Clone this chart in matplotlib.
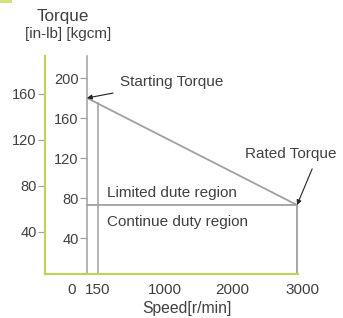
import matplotlib
matplotlib.use("Agg")
import matplotlib.pyplot as plt
import matplotlib.transforms as mtransforms
import numpy as np

# ---- data ----
speed_ticks = [0, 150, 1000, 2000, 3000]
speed_labels = ["0", "150", "1000", "2000", "3000"]
kgcm_ticks = [40, 80, 120, 160, 200]
inlb_ticks = [40, 80, 120, 160]
curve_speed = [0, 3000]
curve_torque = [180, 73]          # kgcm: starting torque -> rated torque
limit_speed = [0, 3000]
limit_torque = [73, 73]           # boundary between limited / continuous region
start_speed = 150

KGCM_TO_INLB = 0.868

W, H = 343, 318
DPI = 100
fig = plt.figure(figsize=(W / DPI, H / DPI), dpi=DPI)
plt.rcParams['font.family'] = ['Liberation Sans', 'DejaVu Sans']

def fx(px):
    return px / W

def fy(py):
    return 1 - py / H

green = '#bcd45a'
gray = '#a0a0a0'
txt = '#404040'
fs = 11

left, right, top, bottom = 45, 298, 56, 274
ax = fig.add_axes([fx(left), fy(bottom), fx(right - left), (bottom - top) / H])
ax.set_xlim(-600, 3014)
ax.set_ylim(4, 222)
ax.patch.set_alpha(0)

for s in ['top', 'right']:
    ax.spines[s].set_visible(False)
ax.spines['bottom'].set_color(green)
ax.spines['bottom'].set_linewidth(1.6)
# kgcm axis at speed 0
ax.spines['left'].set_position(('data', 0))
ax.spines['left'].set_color(gray)
ax.spines['left'].set_linewidth(1.1)
ax.set_yticks(kgcm_ticks)
ax.set_yticklabels([str(v) for v in kgcm_ticks])
ax.tick_params(axis='y', direction='out', length=5, width=0.8, color=gray,
               labelcolor=txt, labelsize=10.5, pad=1)
ax.set_xticks([])

# in-lb axis on the green spine
sec = ax.secondary_yaxis(0, functions=(lambda k: k * KGCM_TO_INLB,
                                       lambda i: i / KGCM_TO_INLB))
sec.set_yticks(inlb_ticks)
sec.spines['left'].set_color(green)
sec.spines['left'].set_linewidth(1.6)
sec.tick_params(axis='y', direction='out', length=5, width=0.8, color=gray,
                labelcolor=txt, labelsize=10.5, pad=1)

# x tick labels (speed) placed at their data positions
xoff = {0: -15, 150: 0, 1000: 8, 2000: 5, 3000: 5}
trans = mtransforms.blended_transform_factory(ax.transData, ax.transAxes)
for s, lab in zip(speed_ticks, speed_labels):
    ax.annotate(lab, xy=(s, 0), xycoords=trans,
                xytext=(xoff.get(s, 5) * 0.72, -16 * 0.72), textcoords='offset points',
                ha='center', va='center', fontsize=fs, color=txt, annotation_clip=False)

# curves
ax.plot(curve_speed, curve_torque, color=gray, lw=1.3, solid_capstyle='butt')
ax.plot(limit_speed, limit_torque, color=gray, lw=1.3)
y150 = np.interp(start_speed, curve_speed, curve_torque)
ax.plot([start_speed, start_speed], [4, y150], color=gray, lw=1.1)
ax.plot([curve_speed[-1], curve_speed[-1]], [4, curve_torque[-1]], color=gray, lw=1.3)

# annotations
ax.annotate('Starting Torque', xy=(curve_speed[0], curve_torque[0]), xycoords='data',
            xytext=(fx(120), fy(82)), textcoords='figure fraction',
            ha='left', va='center', fontsize=fs, color=txt,
            arrowprops=dict(arrowstyle='-|>', color='#222222', lw=0.8,
                            mutation_scale=7, shrinkA=5, shrinkB=0))
ax.annotate('Rated Torque', xy=(curve_speed[-1], curve_torque[-1]), xycoords='data',
            xytext=(fx(245), fy(154)), textcoords='figure fraction',
            ha='left', va='center', fontsize=fs, color=txt,
            arrowprops=dict(arrowstyle='-|>', color='#222222', lw=0.8,
                            mutation_scale=7, shrinkA=4, shrinkB=0,
                            relpos=(0.77, 0.0)))
fig.text(fx(107), fy(193), 'Limited dute region', ha='left', va='center', fontsize=fs, color=txt)
fig.text(fx(107), fy(222), 'Continue duty region', ha='left', va='center', fontsize=fs, color=txt)

fig.text(fx(63), fy(16), 'Torque', ha='center', va='center', fontsize=12.3, color=txt)
fig.text(fx(68), fy(34), '[in-lb] [kgcm]', ha='center', va='center', fontsize=11, color=txt)
fig.text(fx(187), fy(309), 'Speed[r/min]', ha='center', va='center', fontsize=11.3, color=txt)

# small header mark
fig.patches.append(plt.Rectangle((0, fy(3)), fx(12), 3 / H, transform=fig.transFigure,
                                 color='#d8e27a', lw=0))

fig.savefig('out.png', dpi=DPI)
